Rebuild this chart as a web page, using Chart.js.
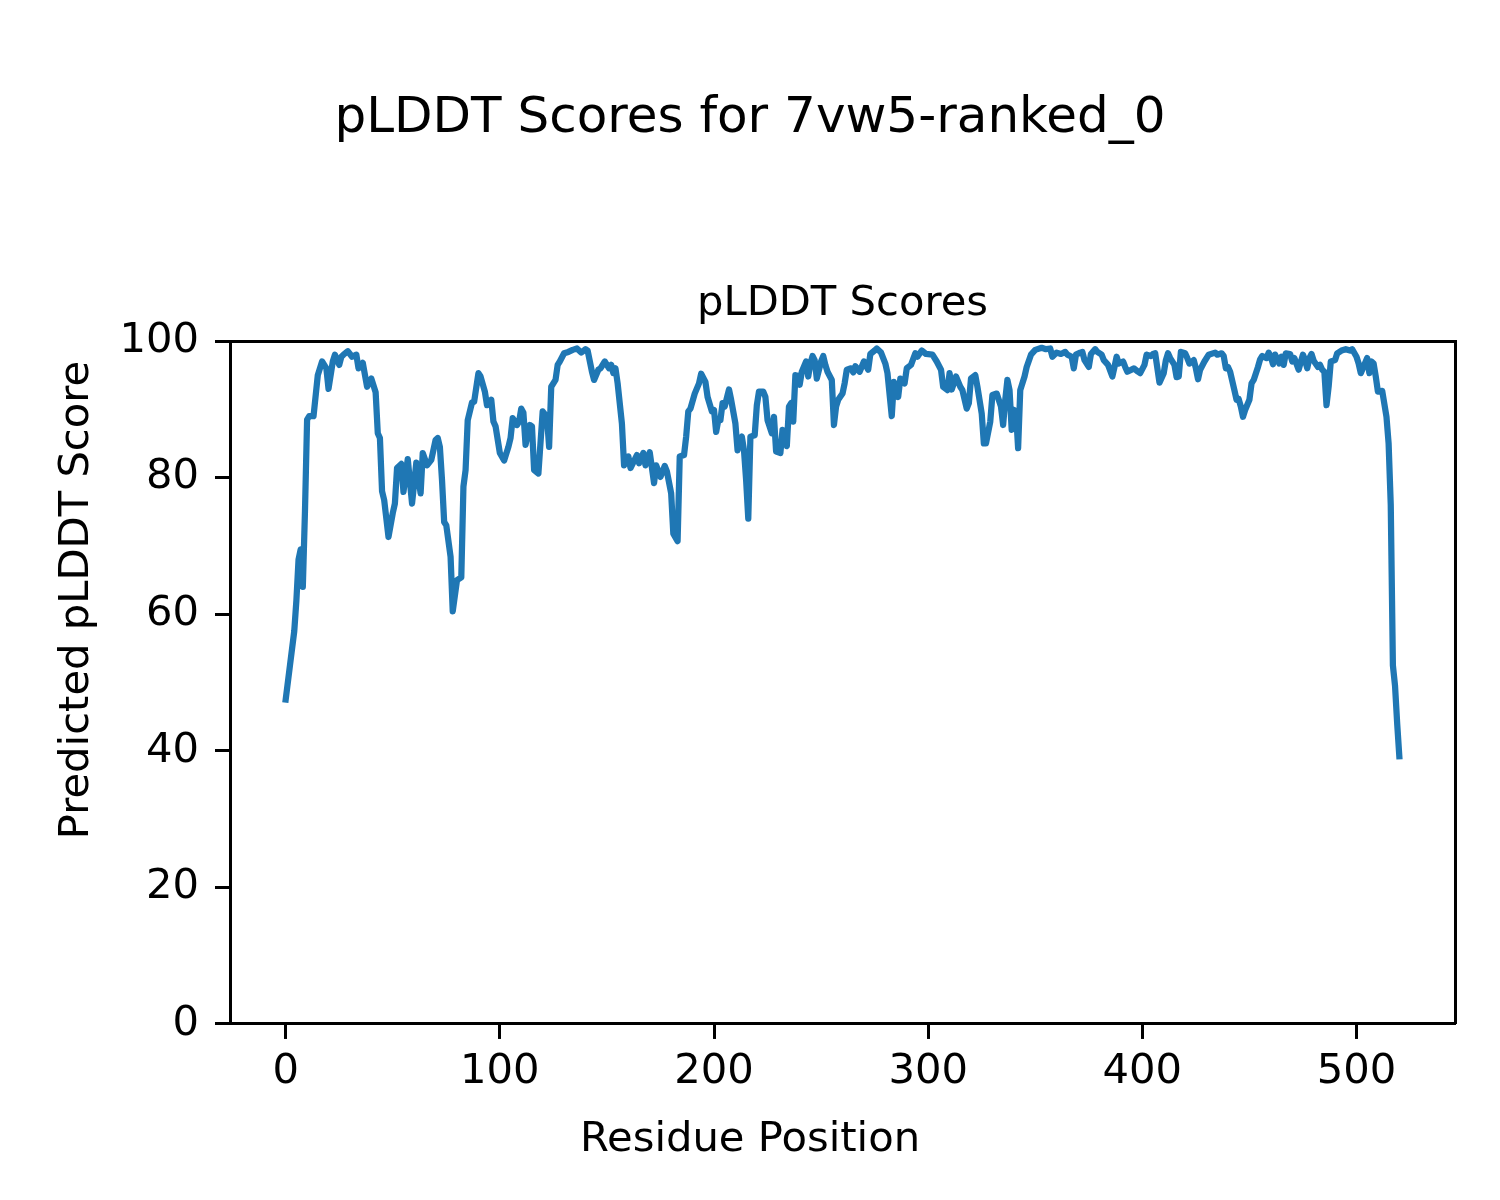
<!DOCTYPE html>
<html>
<head>
<meta charset="utf-8">
<script src="https://cdn.jsdelivr.net/npm/chart.js@4/dist/chart.umd.min.js"></script>
<style>
  body { margin: 0; background: #fff; }
  canvas { display: block; }
</style>
</head>
<body>
<canvas id="plot" width="1500" height="1200"></canvas>
<script>
const figTitle = "pLDDT Scores for 7vw5-ranked_0";
const axTitle = "pLDDT Scores";
const xLabel = "Residue Position";
const yLabel = "Predicted pLDDT Score";

const xTicks = [0, 100, 200, 300, 400, 500];
const yTicks = [0, 20, 40, 60, 80, 100];

// values (residue index, pLDDT)
const residues = [
  0, 2, 4, 5, 6, 7, 8, 9, 10, 11, 13, 15, 17, 19, 20, 22, 23, 25, 26, 27, 29, 31, 33, 34, 36, 38, 40, 42, 43, 44,
  45, 46, 48, 50, 51, 52, 54, 55, 57, 59, 61, 63, 64, 66, 68, 70, 71, 72, 73, 74, 75, 77, 78, 80, 82, 83, 84, 85, 87, 88,
  90, 91, 93, 94, 96, 97, 98, 100, 102, 104, 105, 106, 108, 109, 110, 111, 112, 114, 115, 116, 118, 120, 122, 123, 124, 126, 127, 128, 130, 132,
  134, 136, 138, 140, 141, 143, 144, 146, 147, 149, 151, 152, 153, 154, 155, 157, 158, 160, 161, 164, 165, 167, 168, 170, 172, 173, 175, 177, 178, 180,
  181, 183, 184, 186, 187, 188, 189, 191, 193, 194, 196, 197, 199, 200, 201, 202, 203, 204, 205, 207, 208, 210, 211, 212, 213, 214, 215, 216, 217, 219,
  220, 221, 223, 224, 225, 227, 228, 229, 231, 232, 234, 235, 236, 237, 238, 239, 240, 241, 243, 244, 245, 246, 247, 248, 250, 251, 252, 253, 255, 256,
  257, 258, 260, 261, 262, 264, 265, 266, 268, 270, 272, 273, 275, 276, 278, 280, 281, 283, 284, 285, 286, 287, 289, 290, 292, 294, 295, 297, 299, 302,
  304, 306, 307, 309, 310, 311, 312, 313, 315, 316, 318, 319, 320, 322, 323, 325, 326, 327, 329, 330, 332, 334, 335, 336, 337, 338, 339, 340, 341, 342,
  343, 345, 346, 348, 350, 353, 355, 357, 358, 360, 362, 364, 365, 367, 368, 369, 371, 372, 373, 375, 376, 378, 379, 381, 382, 384, 386, 387, 388, 389,
  391, 392, 393, 395, 396, 398, 399, 401, 402, 404, 405, 406, 408, 410, 411, 412, 413, 415, 416, 417, 418, 420, 421, 422, 424, 425, 426, 427, 429, 431,
  434, 435, 437, 438, 439, 440, 441, 443, 444, 445, 446, 447, 448, 450, 451, 452, 454, 455, 456, 458, 459, 460, 461, 462, 464, 465, 466, 467, 469, 470,
  471, 473, 475, 476, 477, 478, 479, 480, 482, 483, 484, 485, 486, 487, 488, 490, 491, 493, 495, 497, 498, 500, 501, 502, 503, 505, 506, 507, 508, 509,
  510, 512, 514, 515, 516, 517, 518, 519, 520
];
const plddt = [
  47.5, 52.5, 57.5, 62, 68, 69.5, 64, 75, 88.5, 89, 89, 95, 97, 96, 93, 97, 98, 96.5, 97.7, 98, 98.5, 97.7, 98, 96, 96.8, 93.3, 94.5, 92.5, 86.5, 85.8,
  78, 76.7, 71.3, 74.8, 76.2, 81.4, 82, 77.9, 82.7, 76.2, 82.2, 77.7, 83.6, 81.8, 82.6, 85.5, 85.8, 84.5, 79.6, 73.5, 73, 68.4, 60.4, 65, 65.4, 78.7, 81.1, 88.4, 91, 91.1,
  95.3, 94.8, 92.6, 90.6, 91.4, 88.2, 87.5, 83.6, 82.5, 84.5, 85.8, 88.7, 87.7, 88.2, 90.1, 89.5, 84.8, 87.7, 87.5, 81.1, 80.6, 89.7, 88.9, 84.5, 93.3, 94.3, 96.5, 97, 98.2, 98.4,
  98.7, 98.9, 98.3, 98.8, 98.6, 95.5, 94.3, 95.8, 96, 97, 96, 96.5, 95.3, 96, 93.8, 87.9, 81.8, 83.1, 81.4, 83.3, 82.1, 83.6, 81.8, 83.7, 79.2, 81.8, 80.1, 81.7, 80.9, 77.7,
  71.8, 70.7, 83.1, 83.3, 86, 89.7, 90.1, 92.3, 93.8, 95.2, 94, 91.8, 89.7, 89.9, 86.7, 88.4, 88.4, 90.9, 90.4, 92.9, 91.4, 87.9, 84, 85.5, 86, 84, 79.6, 74, 86, 86.2,
  90.6, 92.6, 92.6, 91.8, 88.4, 86.5, 88.9, 83.8, 83.6, 87, 84.6, 90.4, 90.9, 88.2, 95, 94.9, 93.6, 95.5, 97, 94.8, 96.7, 97.8, 97.2, 94.5, 97, 97.8, 96.5, 95.5, 94.3, 87.7,
  90.4, 91.4, 92.3, 93.8, 95.8, 96, 95.4, 96.3, 95.5, 97, 95.8, 98.1, 98.6, 98.9, 98.3, 96.7, 95.3, 89, 94, 93.3, 91.8, 94.5, 93.8, 96, 96.5, 98.2, 97.7, 98.6, 98.1, 98,
  97, 95.8, 93.3, 92.8, 95.3, 92.9, 93.8, 94.8, 93.3, 92.8, 90.1, 90.9, 94.5, 95, 93.3, 89.4, 85, 85, 88.2, 92.1, 92.3, 90.4, 87.7, 91.4, 94.3, 92.8, 87, 89.9, 89.7, 84.3,
  92.8, 94.8, 96.2, 98, 98.7, 99, 98.8, 98.9, 97.7, 98.3, 98.1, 98.4, 98, 97.7, 96, 98, 98.3, 98.4, 97.2, 96.2, 98.1, 98.8, 98.4, 98, 97.2, 96.5, 94.8, 96.2, 97.7, 96.7,
  97, 96.2, 95.5, 95.8, 96, 95.5, 95.3, 96.5, 98, 97.8, 98.1, 98.2, 93.9, 95.3, 97.2, 98.2, 97.5, 96.5, 94.7, 94.8, 98.4, 98.2, 97.5, 96.7, 97.2, 96, 94.4, 95.8, 97, 98,
  98.3, 98, 98.2, 97.8, 96, 96.2, 95.5, 92.8, 91.4, 91.5, 90.4, 88.9, 89.9, 91.4, 93.8, 94.3, 96.2, 97.3, 97.8, 97.5, 98.3, 97.7, 96.6, 98, 96.7, 97.7, 96.5, 98.2, 98.1, 97,
  97.5, 95.8, 98, 97.2, 96, 97.5, 98.1, 97.1, 96.2, 96.5, 95.8, 95.5, 90.6, 93.3, 97, 97.2, 98.2, 98.6, 98.8, 98.6, 98.8, 97.7, 96.7, 95.3, 96, 97.5, 95.3, 97, 96.7, 94.8,
  92.6, 92.7, 88.9, 85, 76, 52.5, 49.5, 44, 39.2
];

const fontFamily = "'DejaVu Sans', sans-serif";
const black = "#000";

// ylabel is centred on the whole figure (like fig.supylabel), not on the axes
const supYLabel = {
  id: "supYLabel",
  afterDraw(chart) {
    const ctx = chart.ctx;
    ctx.save();
    ctx.translate(77, chart.height / 2);
    ctx.rotate(-Math.PI / 2);
    ctx.font = "41.7px " + fontFamily;
    ctx.fillStyle = black;
    ctx.textAlign = "center";
    ctx.textBaseline = "middle";
    ctx.fillText(yLabel, 0, 0);
    ctx.restore();
  },
};

const tickGrid = {
  display: true,
  drawOnChartArea: false,
  drawTicks: true,
  tickLength: 15,
  tickWidth: 3,
  tickColor: black,
  color: black,
};
const spine = { display: true, color: black, width: 3 };
const tickFont = { family: fontFamily, size: 41.7 };

new Chart(document.getElementById("plot"), {
  type: "line",
  data: {
    datasets: [
      {
        data: residues.map((r, i) => ({ x: r, y: plddt[i] })),
        borderColor: "#1f77b4",
        borderWidth: 6.25,
        borderJoinStyle: "round",
        borderCapStyle: "square",
        pointRadius: 0,
        fill: false,
        tension: 0,
      },
    ],
  },
  options: {
    responsive: false,
    animation: false,
    devicePixelRatio: 1,
    layout: { padding: { top: 0, right: 45, bottom: 0, left: 45 } },
    plugins: {
      legend: { display: false },
      tooltip: { enabled: false },
      title: {
        display: true,
        text: figTitle,
        color: black,
        font: { family: fontFamily, size: 50, weight: "normal" },
        padding: { top: 89, bottom: 51 },
      },
      subtitle: {
        display: true,
        position: "bottom",
        text: xLabel,
        color: black,
        font: { family: fontFamily, size: 41.7, weight: "normal" },
        padding: { top: 11.6, bottom: 34.4 },
      },
    },
    scales: {
      x: {
        type: "linear",
        position: "bottom",
        min: -26,
        max: 546,
        afterBuildTicks: s => { s.ticks = xTicks.map(v => ({ value: v })); },
        afterFit: s => { s.height = 80; },
        ticks: { color: black, font: tickFont, padding: 8, maxRotation: 0, autoSkip: false },
        grid: tickGrid,
        border: spine,
      },
      xTop: {
        type: "linear",
        position: "top",
        min: -26,
        max: 546,
        afterFit: s => { s.height = 141; },
        ticks: { display: false },
        grid: { display: false },
        border: spine,
        title: {
          display: true,
          text: axTitle,
          color: black,
          font: { family: fontFamily, size: 41.7, weight: "normal" },
          padding: { top: 79.5, bottom: 0 },
        },
      },
      y: {
        type: "linear",
        position: "left",
        min: 0,
        max: 100,
        afterBuildTicks: s => { s.ticks = yTicks.map(v => ({ value: v })); },
        afterFit: s => { s.width = 185; },
        ticks: { color: black, font: tickFont, padding: 16 },
        grid: tickGrid,
        border: spine,
      },
      yRight: {
        type: "linear",
        position: "right",
        min: 0,
        max: 100,
        afterFit: s => { s.width = 0; },
        ticks: { display: false },
        grid: { display: false },
        border: spine,
      },
    },
  },
  plugins: [supYLabel],
});
</script>
</body>
</html>
